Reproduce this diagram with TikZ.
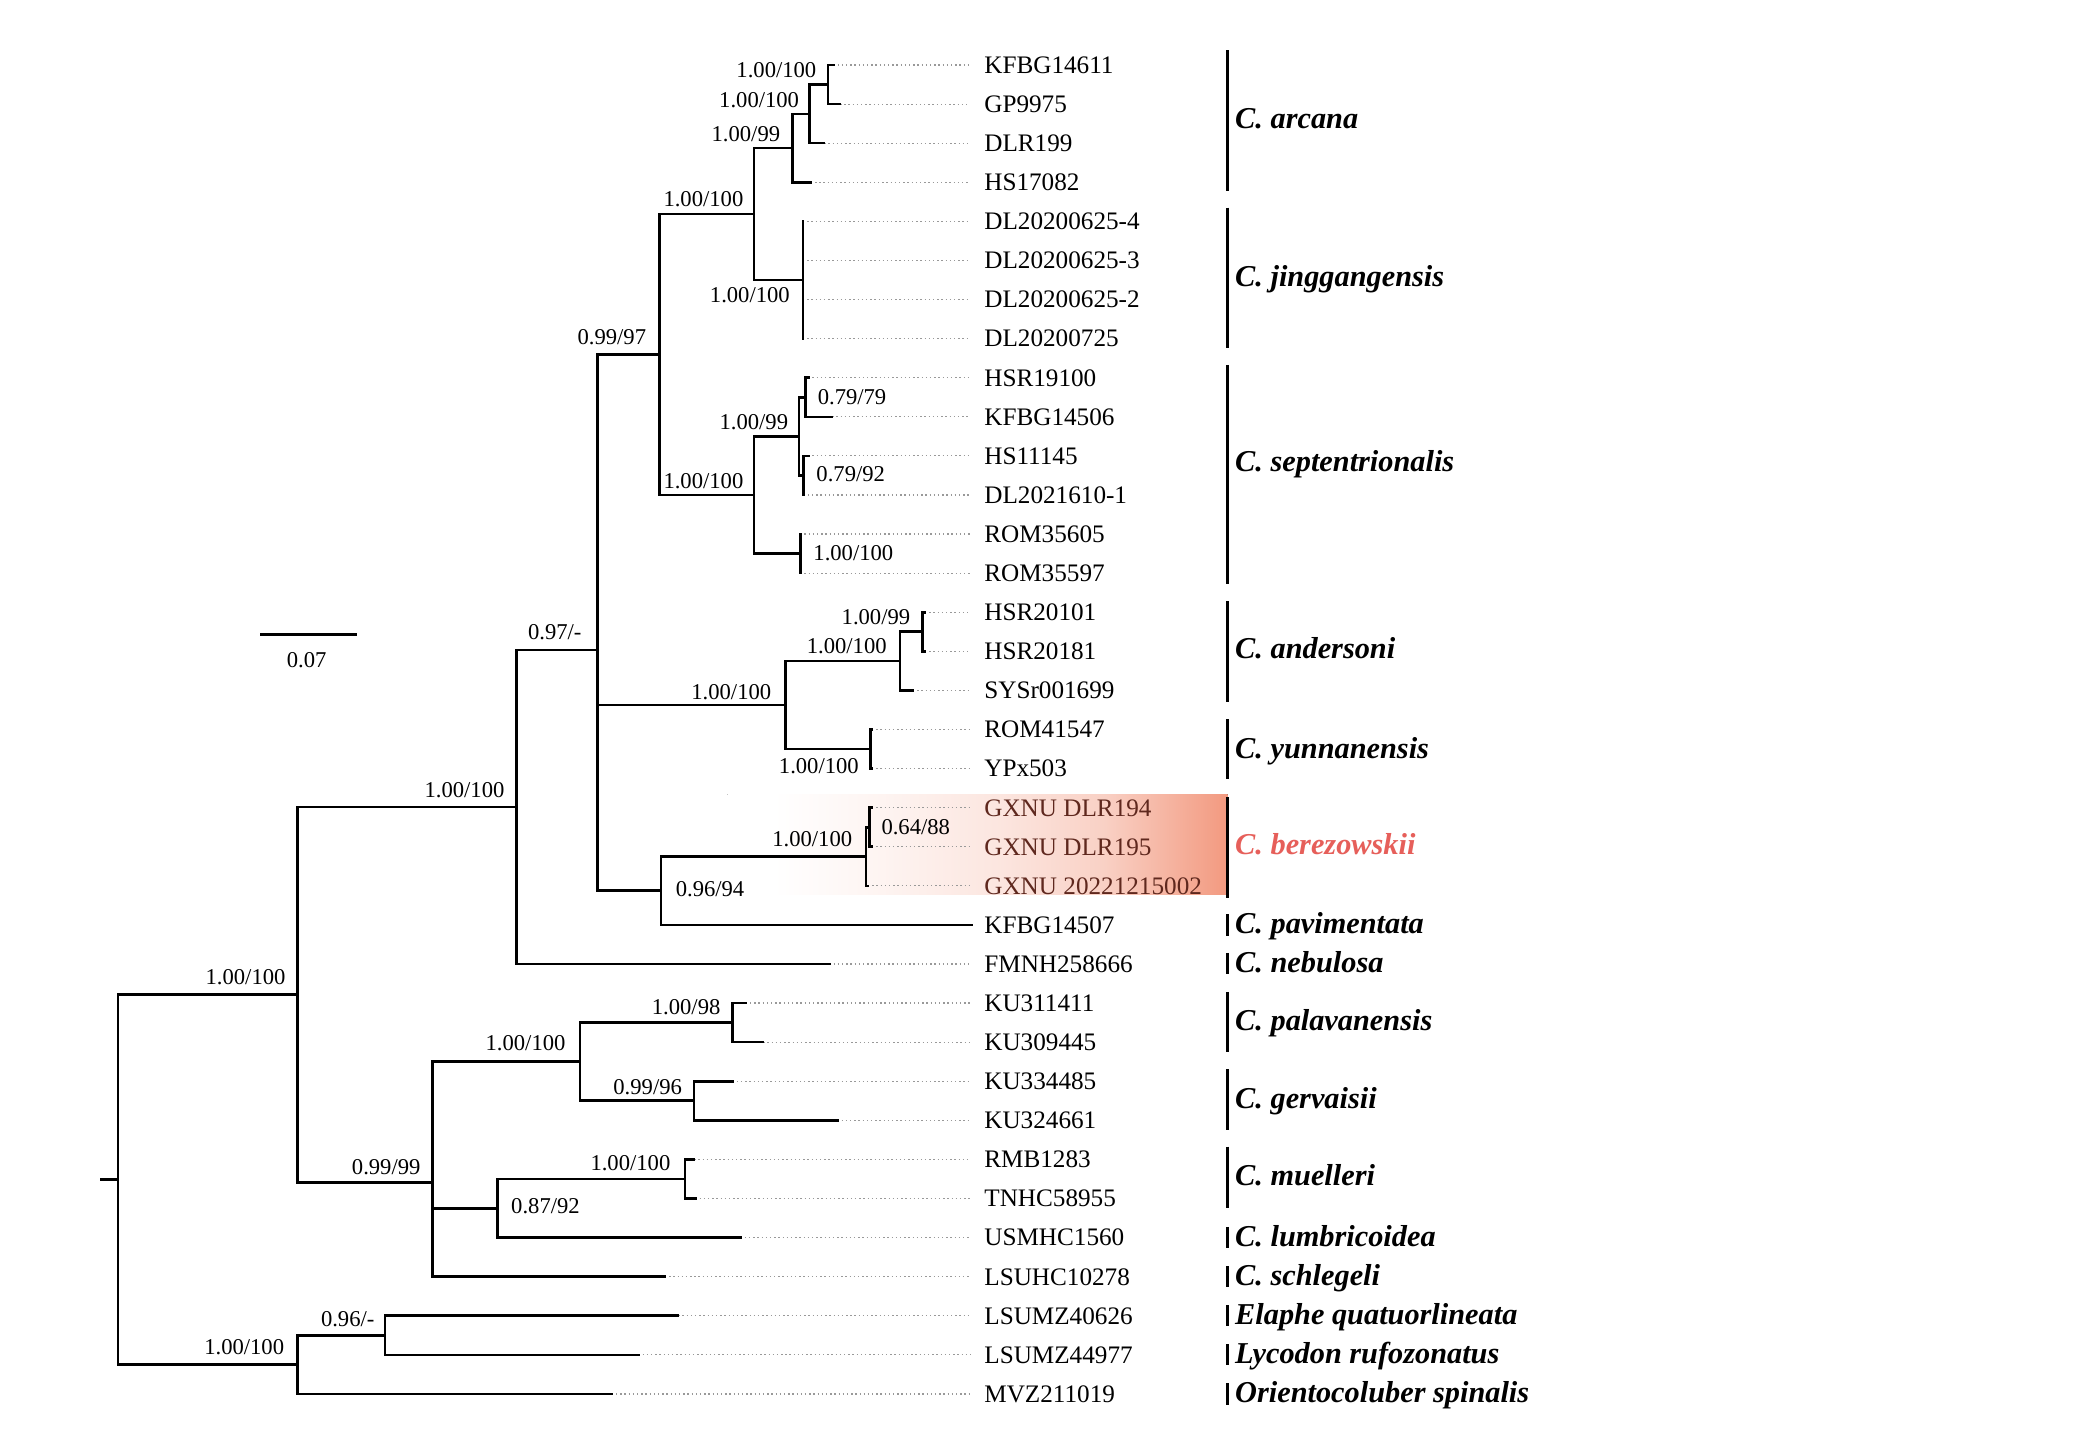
\documentclass[tikz,border=0pt]{standalone}
\usepackage{fontspec}
\setmainfont{Liberation Serif}
\definecolor{salm}{RGB}{242,152,126}
\definecolor{bzred}{RGB}{230,95,90}
\definecolor{bztext}{RGB}{95,40,30}
\pgfdeclarehorizontalshading{bzshade}{100bp}{color(0bp)=(white); color(25bp)=(white); color(30bp)=(white); color(40bp)=(salm!10); color(52.5bp)=(salm!25); color(62.5bp)=(salm!45); color(75bp)=(salm); color(100bp)=(salm)}
\tikzset{
  br/.style={line width=0.55pt, line cap=rect},
  lead/.style={draw=gray!80, line width=0.25pt, dash pattern=on 0.3pt off 0.6pt},
  tip/.style={anchor=base west, inner xsep=1mm, inner ysep=0pt, font=\fontsize{5.4}{6}\selectfont},
  sup/.style={anchor=base, inner sep=0pt, font=\fontsize{4.85}{6}\selectfont},
  clade/.style={anchor=base west, inner sep=0pt, font=\fontsize{6.5}{7}\selectfont\bfseries\itshape},
  cbar/.style={line width=0.75pt},
}
\newcommand{\kids}[4]{\draw[br] (#1|-#2) -- (#1|-#3); \foreach \c in {#4} {\draw[br] (#1|-\c) -- (\c);}}
\begin{document}
\begin{tikzpicture}[x=0.1mm, y=-0.1mm]
\useasboundingbox (0,0) rectangle (1568,1093);
% highlight
\begin{scope}
\clip (548,598.4) rectangle (925,674);
\fill[shading=bzshade] (545,596) rectangle (927,676);
\end{scope}
% tips
\foreach \i/\nm/\ex/\cl in {
0/KFBG14611/628/black,
1/GP9975/633/black,
2/DLR199/621/black,
3/HS17082/611/black,
4/DL20200625-4/605/black,
5/DL20200625-3/605/black,
6/DL20200625-2/605/black,
7/DL20200725/605/black,
8/HSR19100/609/black,
9/KFBG14506/627/black,
10/HS11145/609/black,
11/DL2021610-1/605.5/black,
12/ROM35605/603/black,
13/ROM35597/603/black,
14/HSR20101/697/black,
15/HSR20181/697/black,
16/SYSr001699/688/black,
17/ROM41547/657/black,
18/YPx503/657/black,
19/GXNU DLR194/657/bztext,
20/GXNU DLR195/657/bztext,
21/GXNU 20221215002/654/bztext,
22/KFBG14507/732/black,
23/FMNH258666/625/black,
24/KU311411/562/black,
25/KU309445/575/black,
26/KU334485/552/black,
27/KU324661/631/black,
28/RMB1283/523/black,
29/TNHC58955/524/black,
30/USMHC1560/558/black,
31/LSUHC10278/501/black,
32/LSUMZ40626/511/black,
33/LSUMZ44977/481/black,
34/MVZ211019/461/black}{
  \coordinate (e\i) at (\ex, {49+29.45*\i});
  \node[tip, text=\cl] (t\i) at (731, {49+29.45*\i+6.3}) {\nm};
  \draw[lead] (e\i) -- (e\i -| t\i.west);
}
% internal nodes
\coordinate (nP) at (624,63.7);
\coordinate (nO) at (610,85.8);
\coordinate (nM) at (597,111.6);
\coordinate (nN) at (605,211.0);
\coordinate (nK) at (568,161.3);
\coordinate (nS) at (607,299.3);
\coordinate (nT) at (605.5,358.2);
\coordinate (nQ) at (602,328.8);
\coordinate (nRom) at (603,417.1);
\coordinate (nL) at (568,373.0);
\coordinate (nH) at (497,267.2);
\coordinate (nW) at (695,476.0);
\coordinate (nU) at (678,498.1);
\coordinate (nV) at (656,564.4);
\coordinate (nI) at (592,531.2);
\coordinate (nY) at (655,623.3);
\coordinate (nX) at (652.5,645.4);
\coordinate (nJ) at (498,671.1);
\coordinate (nG) at (450,489.8);
\coordinate (nC) at (389,608.1);
\coordinate (nAA) at (552,770.5);
\coordinate (nAB) at (523,829.4);
\coordinate (nR) at (437,800.0);
\coordinate (nAC) at (516,888.3);
\coordinate (nZ) at (375,910.4);
\coordinate (nD) at (326,890.8);
\coordinate (nB) at (224,749.4);
\coordinate (nF) at (290,1006.1);
\coordinate (nE) at (224,1028.2);
\coordinate (nRt) at (89,888.8);
\coordinate (nRt0) at (76,888.8);
% branches
\draw[br] (nRt0) -- (nRt);
\kids{nRt}{nB}{nE}{nB,nE}
\kids{nB}{nC}{nD}{nC,nD}
\kids{nC}{nG}{e23}{nG,e23}
\kids{nG}{nH}{nJ}{nH,nI,nJ}
\kids{nH}{nK}{nL}{nK,nL}
\kids{nK}{nM}{nN}{nM,nN}
\kids{nM}{nO}{e3}{nO,e3}
\kids{nO}{nP}{e2}{nP,e2}
\kids{nP}{e0}{e1}{e0,e1}
\kids{nN}{e4}{e7}{e4,e5,e6,e7}
\kids{nL}{nQ}{nRom}{nQ,nRom}
\kids{nQ}{nS}{nT}{nS,nT}
\kids{nS}{e8}{e9}{e8,e9}
\kids{nT}{e10}{e11}{e10,e11}
\kids{nRom}{e12}{e13}{e12,e13}
\kids{nI}{nU}{nV}{nU,nV}
\kids{nU}{nW}{e16}{nW,e16}
\kids{nW}{e14}{e15}{e14,e15}
\kids{nV}{e17}{e18}{e17,e18}
\kids{nJ}{nX}{e22}{nX,e22}
\kids{nX}{nY}{e21}{nY,e21}
\kids{nY}{e19}{e20}{e19,e20}
\kids{nD}{nR}{e31}{nR,nZ,e31}
\kids{nR}{nAA}{nAB}{nAA,nAB}
\kids{nAA}{e24}{e25}{e24,e25}
\kids{nAB}{e26}{e27}{e26,e27}
\kids{nZ}{nAC}{e30}{nAC,e30}
\kids{nAC}{e28}{e29}{e28,e29}
\kids{nE}{nF}{e34}{nF,e34}
\kids{nF}{e32}{e33}{e32,e33}
% support values
\foreach \k/\cx/\cy/\txt in {
1/585/53/1.00\slash100,
2/572/75/1.00\slash100,
3/562/101/1.00\slash99,
4/530/150/1.00\slash100,
5/565/222/1.00\slash100,
6/461/254/0.99\slash97,
7/642/299/0.79\slash79,
8/568/318/1.00\slash99,
9/641/357/0.79\slash92,
10/530/362/1.00\slash100,
11/643/417/1.00\slash100,
12/418/476/0.97\slash-,
13/660/465/1.00\slash99,
14/638/487/1.00\slash100,
15/551/521/1.00\slash100,
16/617/577/1.00\slash100,
17/350/595/1.00\slash100,
18/612/632/1.00\slash100,
19/690/623/0.64\slash88,
20/535/670/0.96\slash94,
21/185/736/1.00\slash100,
22/517/759/1.00\slash98,
23/396/786/1.00\slash100,
24/488/819/0.99\slash96,
25/475/876/1.00\slash100,
26/291/879/0.99\slash99,
27/411/909/0.87\slash92,
28/262/994/0.96\slash-,
29/184/1015/1.00\slash100}{
  \node[sup] (s\k) at (\cx, \cy+5.7) {\txt};
}
% scale bar
\coordinate (sb0) at (197,478);
\coordinate (sb1) at (268,478);
\draw[br] (sb0) -- (sb1);
\node[sup] (sbl) at (231,502.7) {0.07};
% clade bars and names
\foreach \k/\ya/\yb/\yl/\nm/\cl in {
1/38/144/90/C. arcana/black,
2/156.5/262/209/C. jinggangensis/black,
3/275/440/349/C. septentrionalis/black,
4/453/529/490/C. andersoni/black,
5/542/587/565/C. yunnanensis/black,
6/600.6/676.5/637.5/C. berezowskii/bzred,
7/689/705/697/C. pavimentata/black,
8/718/734/726.4/C. nebulosa/black,
9/747.3/792.5/770/C. palavanensis/black,
10/805.6/851.5/828.5/C. gervaisii/black,
11/864/910/887/C. muelleri/black,
12/924.5/940.5/932.5/C. lumbricoidea/black,
13/954/970/962/C. schlegeli/black,
14/983.4/999.4/991.4/Elaphe quatuorlineata/black,
15/1012.8/1028.8/1020.8/Lycodon rufozonatus/black,
16/1042.3/1058.3/1050.3/Orientocoluber spinalis/black}{
  \coordinate (ba\k) at (925,\ya);
  \coordinate (bb\k) at (925,\yb);
  \draw[cbar] (ba\k) -- (bb\k);
  \node[clade, text=\cl] (c\k) at (930,\yl+6.5) {\nm};
}
\end{tikzpicture}
\end{document}
